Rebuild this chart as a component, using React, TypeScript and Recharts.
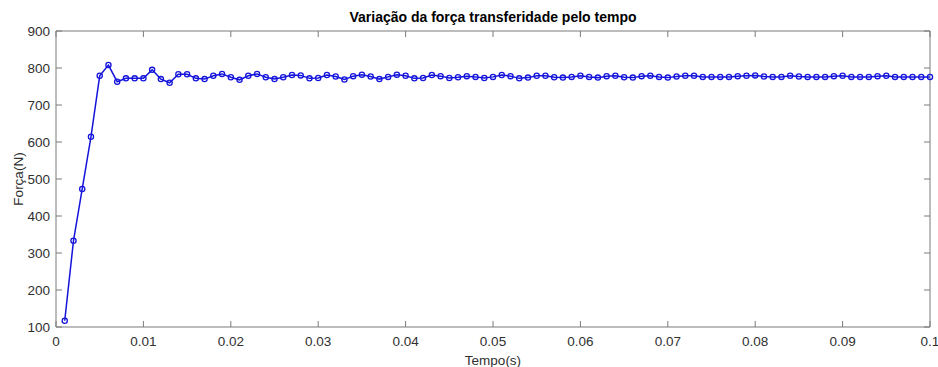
import { Label, Line, LineChart, XAxis, YAxis } from 'recharts'

const STEP = 0.001

// Força (N) sampled every 1 ms from 0.001 s to 0.1 s
const force = [
  117, 333, 473, 614, 779, 808, 763, 772, 772, 772,
  795, 770, 760, 783, 783, 772, 770, 779, 784, 775,
  768, 779, 784, 775, 770, 775, 781, 780, 772, 773,
  781, 777, 769, 778, 782, 777, 770, 776, 782, 779,
  772, 773, 781, 778, 773, 775, 778, 776, 773, 776,
  781, 778, 772, 774, 779, 779, 775, 774, 776, 779,
  776, 774, 778, 779, 775, 774, 778, 779, 776, 774,
  777, 779, 779, 776, 776, 776, 776, 778, 779, 780,
  777, 776, 776, 779, 777, 776, 776, 776, 778, 779,
  776, 776, 776, 778, 779, 776, 776, 776, 776, 776,
]

const xTicks = [0, 0.01, 0.02, 0.03, 0.04, 0.05, 0.06, 0.07, 0.08, 0.09, 0.1]
const yTicks = [100, 200, 300, 400, 500, 600, 700, 800, 900]

const data = force.map((f, i) => ({ t: Number(((i + 1) * STEP).toFixed(3)), f }))

const AXIS = '#7a7a7a'
const TEXT = '#303030'
const BLUE = '#1414dc'
const FONT = '"Liberation Sans", Arial, Helvetica, sans-serif'
const TICK_LEN = 6

function BottomTick({ x, y, payload }: any) {
  return (
    <g>
      <line x1={x} x2={x} y1={y} y2={y - TICK_LEN} stroke={AXIS} />
      <text x={x} y={y + 19} textAnchor="middle" fontSize={13.5} fill={TEXT} fontFamily={FONT}>
        {String(payload.value)}
      </text>
    </g>
  )
}

function TopTick({ x, y }: any) {
  return <line x1={x} x2={x} y1={y} y2={y + TICK_LEN} stroke={AXIS} />
}

function LeftTick({ x, y, payload }: any) {
  return (
    <g>
      <line x1={x} x2={x + TICK_LEN} y1={y} y2={y} stroke={AXIS} />
      <text x={x - 6} y={y + 5} textAnchor="end" fontSize={13.5} fill={TEXT} fontFamily={FONT}>
        {String(payload.value)}
      </text>
    </g>
  )
}

function RightTick({ x, y }: any) {
  return <line x1={x} x2={x - TICK_LEN} y1={y} y2={y} stroke={AXIS} />
}

export default function App() {
  return (
    <div style={{ position: 'absolute', left: 0, top: 0, background: '#fff' }}>
      <LineChart width={938} height={367} data={data} margin={{ top: 30, right: 7, bottom: 10, left: 16 }}>
        <XAxis
          dataKey="t"
          type="number"
          domain={[0, 0.1]}
          ticks={xTicks}
          interval={0}
          height={30}
          tickSize={0}
          tickMargin={0}
          tickLine={false}
          axisLine={{ stroke: AXIS }}
          tick={<BottomTick />}
        >
          <Label
            content={({ viewBox }: any) => (
              <text
                x={viewBox.x + viewBox.width / 2}
                y={viewBox.y + 38}
                textAnchor="middle"
                fontSize={13.5}
                fill={TEXT}
                fontFamily={FONT}
              >
                Tempo(s)
              </text>
            )}
          />
        </XAxis>
        <XAxis
          xAxisId="top"
          dataKey="t"
          type="number"
          orientation="top"
          domain={[0, 0.1]}
          ticks={xTicks}
          interval={0}
          height={1}
          tickSize={0}
          tickMargin={0}
          tickLine={false}
          axisLine={{ stroke: AXIS }}
          tick={<TopTick />}
        >
          <Label
            content={({ viewBox }: any) => (
              <text
                x={viewBox.x + viewBox.width / 2}
                y={viewBox.y - 8}
                textAnchor="middle"
                fontSize={14}
                fontWeight="bold"
                fill="#000"
                fontFamily={FONT}
              >
                Variação da força transferidade pelo tempo
              </text>
            )}
          />
        </XAxis>
        <YAxis
          type="number"
          domain={[100, 900]}
          ticks={yTicks}
          interval={0}
          width={40}
          tickSize={0}
          tickMargin={0}
          tickLine={false}
          axisLine={{ stroke: AXIS }}
          tick={<LeftTick />}
        >
          <Label
            content={({ viewBox }: any) => {
              const cx = viewBox.x + 2
              const cy = viewBox.y + viewBox.height / 2
              return (
                <text
                  x={cx}
                  y={cy}
                  transform={`rotate(-90 ${cx} ${cy})`}
                  textAnchor="middle"
                  dominantBaseline="central"
                  fontSize={13.5}
                  fill={TEXT}
                  fontFamily={FONT}
                >
                  Força(N)
                </text>
              )
            }}
          />
        </YAxis>
        <YAxis
          yAxisId="right"
          orientation="right"
          type="number"
          domain={[100, 900]}
          ticks={yTicks}
          interval={0}
          width={1}
          tickSize={0}
          tickMargin={0}
          tickLine={false}
          axisLine={{ stroke: AXIS }}
          tick={<RightTick />}
        />
        {/* invisible twin series so the top/right box axes get a scale */}
        <Line
          xAxisId="top"
          yAxisId="right"
          type="linear"
          dataKey="f"
          stroke="none"
          dot={false}
          activeDot={false}
          legendType="none"
          isAnimationActive={false}
        />
        <Line
          type="linear"
          dataKey="f"
          stroke={BLUE}
          strokeWidth={1.5}
          dot={{ r: 2.6, stroke: BLUE, strokeWidth: 1.3, fill: 'none' }}
          activeDot={false}
          isAnimationActive={false}
        />
      </LineChart>
    </div>
  )
}
